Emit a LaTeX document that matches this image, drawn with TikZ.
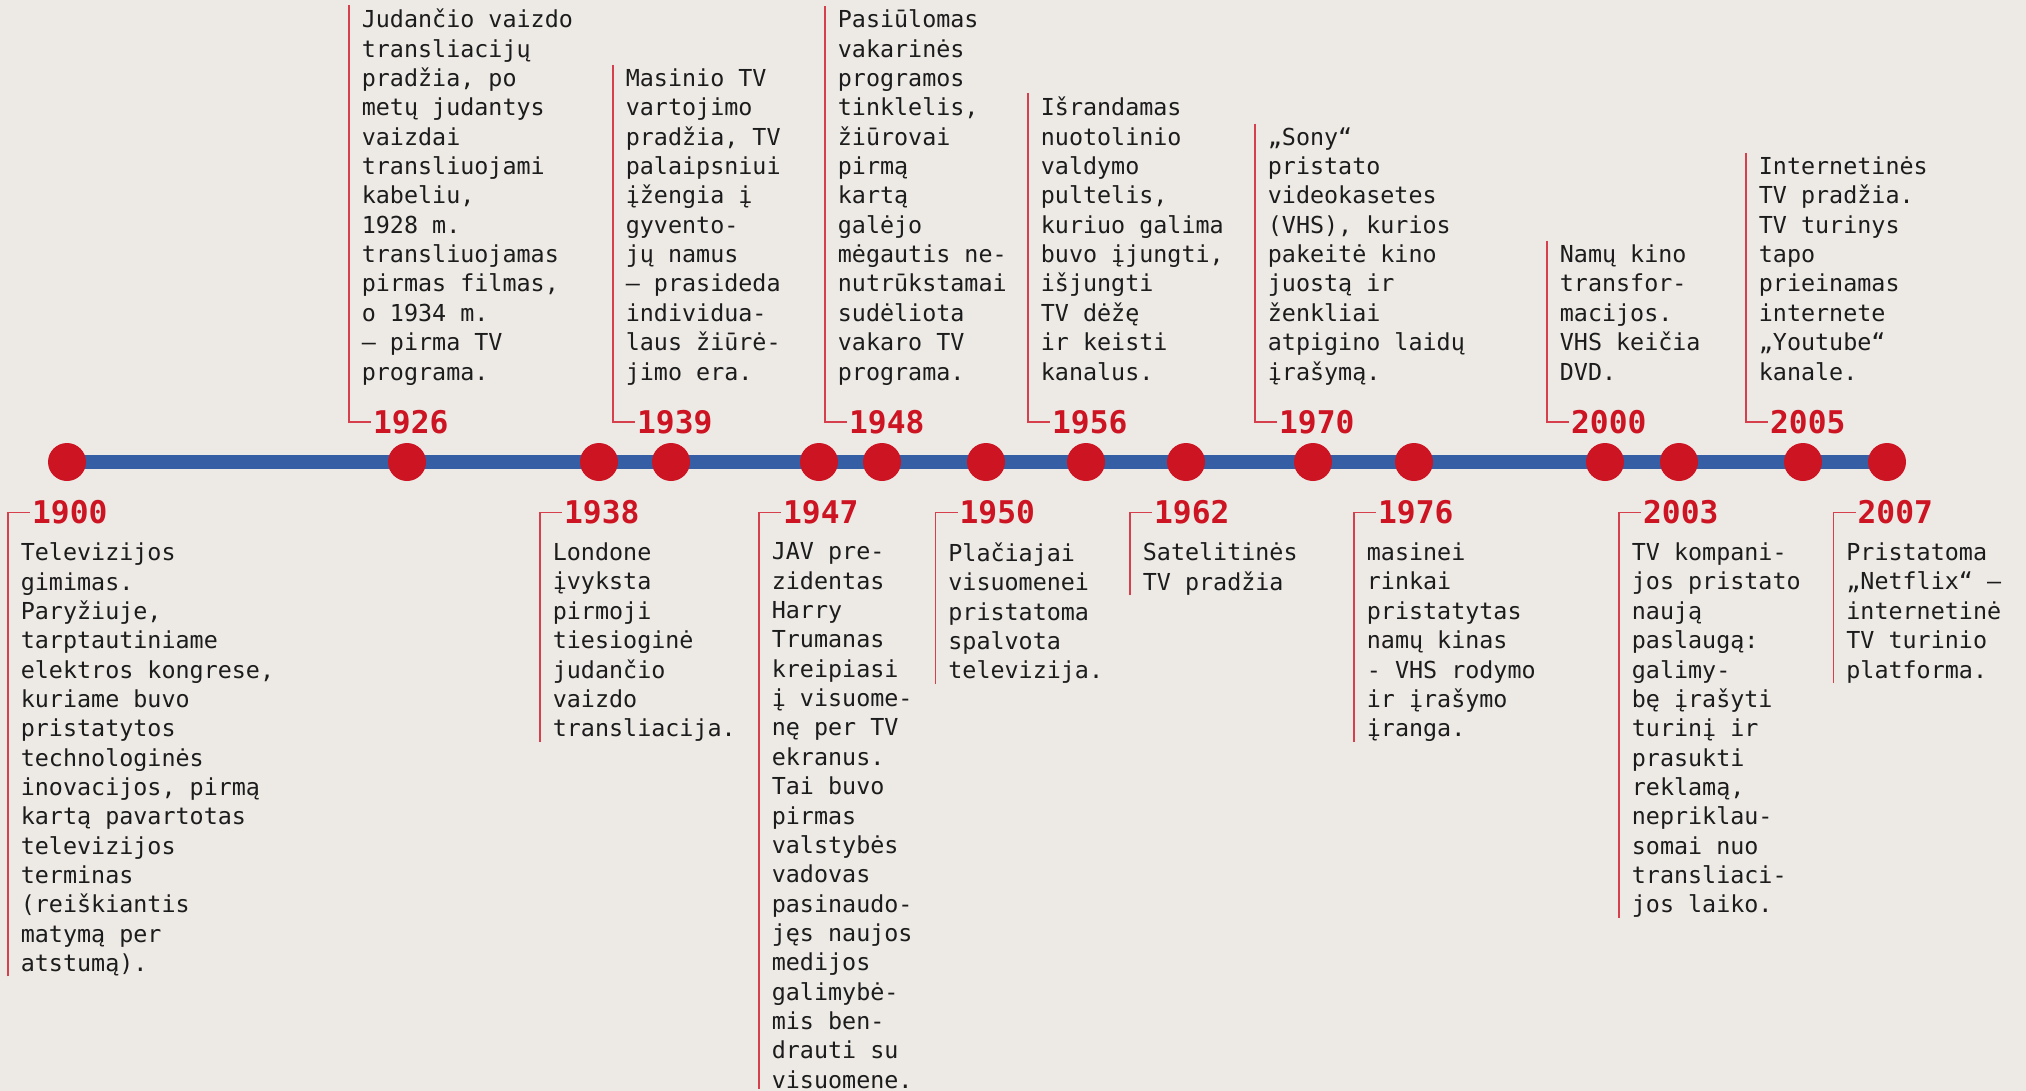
\documentclass[tikz,border=0pt]{standalone}
\usepackage{fontspec}
\usetikzlibrary{backgrounds}
\newfontfamily\monofont{DejaVu Sans Mono}
\definecolor{fonas}{RGB}{237,234,230}
\definecolor{melyna}{RGB}{53,94,165}
\definecolor{raudona}{RGB}{205,20,34}
\definecolor{linija}{RGB}{214,64,76}
\definecolor{tekstas}{RGB}{28,28,28}

\begin{document}
\begin{tikzpicture}[
  dot/.style={circle,fill=raudona,minimum size=0.76cm,inner sep=0pt},
  body/.style={font=\monofont\fontsize{13.3pt}{16.7pt}\selectfont,text=tekstas,align=left,inner sep=0pt},
  year/.style={font=\monofont\bfseries\fontsize{17.8pt}{20pt}\selectfont,text=raudona,inner sep=0pt,inner xsep=1pt,anchor=west},
  bracket/.style={linija,line width=0.8pt}]
  \useasboundingbox (0,0) rectangle (40.52,-21.82);
  % taskai
  \foreach \yr/\x in {1900/1.34,1926/8.14,1938/11.98,1939/13.42,1947/16.38,1948/17.64,1950/19.72,1956/21.72,1962/23.72,1970/26.26,1976/28.28,2000/32.10,2003/33.58,2005/36.06,2007/37.74}
    \node[dot] (d\yr) at (\x,-9.24) {};
  % fonas ir laiko juosta
  \begin{scope}[on background layer]
    \fill[fonas] (0,0) rectangle (40.52,-21.82);
    \draw[melyna,line width=0.28cm] (d1900.center)--(d2007.center);
  \end{scope}
  % virs juostos
  \foreach \yr/\bx/\txt in {
    1926/6.98/{Judančio vaizdo\\transliacijų\\pradžia, po\\metų judantys\\vaizdai\\transliuojami\\kabeliu,\\1928 m.\\transliuojamas\\pirmas filmas,\\o 1934 m.\\– pirma TV\\programa.},
    1939/12.26/{Masinio TV\\vartojimo\\pradžia, TV\\palaipsniui\\įžengia į\\gyvento-\\jų namus\\– prasideda\\individua-\\laus žiūrė-\\jimo era.},
    1948/16.50/{Pasiūlomas\\vakarinės\\programos\\tinklelis,\\žiūrovai\\pirmą\\kartą\\galėjo\\mėgautis ne-\\nutrūkstamai\\sudėliota\\vakaro TV\\programa.},
    1956/20.56/{Išrandamas\\nuotolinio\\valdymo\\pultelis,\\kuriuo galima\\buvo įjungti,\\išjungti\\TV dėžę\\ir keisti\\kanalus.},
    1970/25.10/{„Sony“\\pristato\\videokasetes\\(VHS), kurios\\pakeitė kino\\juostą ir\\ženkliai\\atpigino laidų\\įrašymą.},
    2000/30.94/{Namų kino\\transfor-\\macijos.\\VHS keičia\\DVD.},
    2005/34.92/{Internetinės\\TV pradžia.\\TV turinys\\tapo\\prieinamas\\internete\\„Youtube“\\kanale.}}{
    \node[body,anchor=base west] (t\yr) at (\bx+0.25,-7.6) {\txt};
    \node[year] (y\yr) at (\bx+0.44,-8.44) {\yr};
    \draw[bracket] ([xshift=-0.25cm,yshift=2pt]t\yr.north west) |- (y\yr.west);
  }
  % po juosta
  \foreach \yr/\bx/\txt in {
    1900/0.16/{Televizijos\\gimimas.\\Paryžiuje,\\tarptautiniame\\elektros kongrese,\\kuriame buvo\\pristatytos\\technologinės\\inovacijos, pirmą\\kartą pavartotas\\televizijos\\terminas\\(reiškiantis\\matymą per\\atstumą).},
    1938/10.80/{Londone\\įvyksta\\pirmoji\\tiesioginė\\judančio\\vaizdo\\transliacija.},
    1947/15.18/{JAV pre-\\zidentas\\Harry\\Trumanas\\kreipiasi\\į visuome-\\nę per TV\\ekranus.\\Tai buvo\\pirmas\\valstybės\\vadovas\\pasinaudo-\\jęs naujos\\medijos\\galimybė-\\mis ben-\\drauti su\\visuomene.},
    1950/18.71/{Plačiajai\\visuomenei\\pristatoma\\spalvota\\televizija.},
    1962/22.60/{Satelitinės\\TV pradžia},
    1976/27.08/{masinei\\rinkai\\pristatytas\\namų kinas\\- VHS rodymo\\ir įrašymo\\įranga.},
    2003/32.38/{TV kompani-\\jos pristato\\naują\\paslaugą:\\galimy-\\bę įrašyti\\turinį ir\\prasukti\\reklamą,\\nepriklau-\\somai nuo\\transliaci-\\jos laiko.},
    2007/36.67/{Pristatoma\\„Netflix“ –\\internetinė\\TV turinio\\platforma.}}{
    \node[body,anchor=north west] (t\yr) at (\bx+0.25,-10.85) {\txt};
    \node[year] (y\yr) at (\bx+0.44,-10.25) {\yr};
    \draw[bracket] ([xshift=-0.25cm]t\yr.south west) |- (y\yr.west);
  }
\end{tikzpicture}
\end{document}
